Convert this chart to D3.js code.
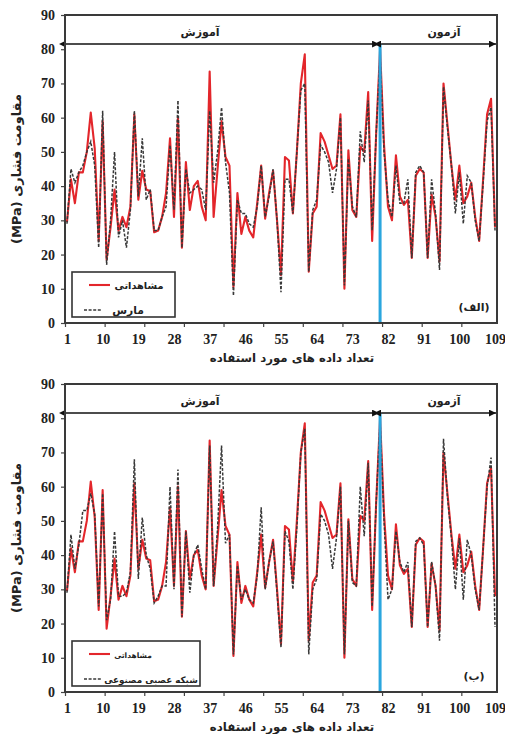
<!DOCTYPE html>
<html><head><meta charset="utf-8">
<script src="https://cdn.jsdelivr.net/npm/d3@7"></script>
<style>body{margin:0;background:#fff} svg{display:block}</style>
</head><body>
<svg id="c" width="505" height="734"></svg>
<script>
const observed = [29.5,42,35,44,44,50,61.5,51,24,59,18.5,28,39,27,31,28,34,61,36,44.5,39,38.5,26.5,27,31,38,54,31,60,22,47,33,40,41.5,34,30,73.5,31,45,59,48.5,46,10.5,38,26,31,27,25,35,46,30.5,38,44.5,30,14,48.5,47.5,32,50,70,78.5,15,32,34,55.5,53,49,45,46,61,10,50.5,33,31,51.5,50,67.5,24,55,80,52,34,30,49,37,34.5,36,19,43,45,44,19,37.5,31,18,70,58,46,36,46,35,37,41,31,24,42,61,65.5,28];
const mars = [29,45,41,44,46,50,53,46,22,62,17,30,50,25,30,22,33,62,37,54,36,39,27,27,31,34,52,33,65,22,45,38,39,40,39,33,62,41,50,63,47,38,8,36,32,32,29,28,34,46,31,37,45,30,9,42,42,32,50,68,70,15,33,36,52,50,47,38,45,60,11,48,34,31,56,47,65,27,55,78,50,36,31,46,35,35,42,19,44,46,44,19,42,32,15.5,69,57,46,32,44,29,43,41,30,24,41,59,63,27];
const ann = [29,46,36,43,53,53,58,52,25,58,21,27,47,28,28,29,35,68,33,51,40,36,26,28,31,31,60,30,65,22,47,29,40,43,36,30,72,31,48,72,43.5,46,11,37,27,30,27,26,34,54,30,38,44,29,13,47,44,30,48,70,77,11,30,33,52,50,46,36,45,60,11,50,32,31,60,45.5,67,25,55,79,50,27,30,47,38,35,38,19,44,45,43,19,38,31,15,74,57,45,30,45,27,44.5,40,30,24,42,60,68.5,19];
const xTickLabels = [1,10,19,28,37,46,55,64,73,82,91,100,109];
const xTickMarks = [0.5,10.5,20.5,30.5,40.5,50.5,60.5,70.5,80.5,90.5,100.5];
const yTicks = [0,10,20,30,40,50,60,70,80,90];
const trainEnd = 80;
const arrowLevel = 81.5;
const labelObserved = "مشاهداتی";
const labelTrain = "آموزش";
const labelTest = "آزمون";
const xTitle = "تعداد داده های مورد استفاده";
const yTitle = "مقاومت فشاری (MPa)";

const svg = d3.select("#c");
const defs = svg.append("defs");
["s","e"].forEach(k=>{
  defs.append("marker").attr("id","ar"+k).attr("viewBox","0 0 10 10")
    .attr("refX", k==="e"?10:0).attr("refY",5).attr("markerWidth",7).attr("markerHeight",7)
    .attr("markerUnits","userSpaceOnUse").attr("orient","auto-start-reverse")
    .append("path").attr("d","M0,0 L10,5 L0,10 z").attr("fill","#111");
});

const serif = "'Liberation Serif','Times New Roman',serif";
const arab = "'DejaVu Sans',sans-serif";

function fitText(sel, maxW) {
  const n = sel.node();
  let fs = +sel.attr("font-size");
  while (n.getComputedTextLength() > maxW && fs > 6) { fs -= 0.25; sel.attr("font-size", fs); }
  return sel;
}

function panel(top, bottom, model, modelLabel, panelLabel, legendW, textL, textR) {
  const x = d3.scaleLinear().domain([0.5,109.5]).range([65,497]);
  const y = d3.scaleLinear().domain([0,90]).range([bottom, top]);
  const g = svg.append("g");

  const ya = g.append("g").attr("transform","translate(65,0)")
    .call(d3.axisLeft(y).tickValues(yTicks).tickSize(4).tickSizeOuter(0).tickPadding(6));
  ya.select(".domain").remove();
  ya.selectAll("line").attr("stroke","#444").attr("stroke-width",1.2);
  ya.selectAll("text").attr("font-family",serif).attr("font-weight","bold").attr("font-size",14).attr("fill","#222");

  const xm = g.append("g").attr("transform",`translate(0,${bottom})`)
    .call(d3.axisBottom(x).tickValues(xTickMarks).tickSize(4).tickSizeOuter(0).tickFormat(""));
  xm.select(".domain").remove();
  xm.selectAll("line").attr("stroke","#444").attr("stroke-width",1.2);
  const xl = g.append("g").attr("transform",`translate(0,${bottom})`)
    .call(d3.axisBottom(x).tickValues(xTickLabels).tickSize(0).tickPadding(11));
  xl.select(".domain").remove();
  xl.selectAll("text").attr("font-family",serif).attr("font-weight","bold").attr("font-size",14).attr("fill","#222");

  fitText(g.append("text").attr("x",292).attr("y",bottom+39).attr("text-anchor","middle")
    .attr("font-family",arab).attr("font-weight","bold").attr("font-size",12.5).attr("fill","#222").text(xTitle), 165);
  g.append("text").attr("transform",`translate(21,${(top+bottom)/2}) rotate(-90)`).attr("text-anchor","middle")
    .attr("direction","rtl").attr("font-family",arab).attr("font-weight","bold").attr("font-size",13).attr("fill","#222").text(yTitle);

  const line = d3.line().x((d,i)=>x(i+1)).y(d=>y(d));
  g.append("path").datum(observed).attr("d",line).attr("fill","none")
    .attr("stroke","#e3262b").attr("stroke-width",2.1).attr("stroke-linejoin","round");
  g.append("path").datum(model).attr("d",line).attr("fill","none")
    .attr("stroke","#383838").attr("stroke-width",1.5).attr("stroke-dasharray","3,1.6");

  g.append("line").attr("x1",x(trainEnd)).attr("x2",x(trainEnd)).attr("y1",y(0)).attr("y2",y(arrowLevel))
    .attr("stroke","#2aa6de").attr("stroke-width",3);

  g.append("line").attr("x1",x(0.5)+1).attr("x2",x(trainEnd)-1).attr("y1",y(arrowLevel)).attr("y2",y(arrowLevel))
    .attr("stroke","#111").attr("stroke-width",1.5).attr("marker-start","url(#ars)").attr("marker-end","url(#are)");
  g.append("line").attr("x1",x(trainEnd)+1).attr("x2",x(109.5)-1).attr("y1",y(arrowLevel)).attr("y2",y(arrowLevel))
    .attr("stroke","#111").attr("stroke-width",1.5).attr("marker-start","url(#ars)").attr("marker-end","url(#are)");
  g.append("text").attr("x",200).attr("y",y(arrowLevel)-8).attr("text-anchor","middle")
    .attr("font-family",arab).attr("font-weight","bold").attr("font-size",11).attr("fill","#222").text(labelTrain);
  g.append("text").attr("x",444).attr("y",y(arrowLevel)-8).attr("text-anchor","middle")
    .attr("font-family",arab).attr("font-weight","bold").attr("font-size",11).attr("fill","#222").text(labelTest);

  g.append("rect").attr("x",65).attr("y",top).attr("width",432).attr("height",bottom-top)
    .attr("fill","none").attr("stroke","#3a3a3a").attr("stroke-width",2);

  const lg = g.append("g");
  lg.append("rect").attr("x",72).attr("y",bottom-51).attr("width",legendW).attr("height",45)
    .attr("fill","#fff").attr("stroke","#333").attr("stroke-width",1.6);
  lg.append("line").attr("x1",89).attr("x2",110).attr("y1",bottom-38).attr("y2",bottom-38)
    .attr("stroke","#e3262b").attr("stroke-width",2.1);
  fitText(lg.append("text").attr("x",(114+textR[0])/2).attr("y",bottom-34).attr("text-anchor","middle")
    .attr("font-family",arab).attr("font-weight","bold").attr("font-size",11).attr("fill","#222").text(labelObserved), textR[0]-114);
  lg.append("line").attr("x1",84).attr("x2",101).attr("y1",bottom-13).attr("y2",bottom-13)
    .attr("stroke","#383838").attr("stroke-width",1.5).attr("stroke-dasharray","3,1.6");
  fitText(lg.append("text").attr("x",(textL+textR[1])/2).attr("y",bottom-9).attr("text-anchor","middle")
    .attr("font-family",arab).attr("font-weight","bold").attr("font-size",11).attr("fill","#222").text(modelLabel), textR[1]-textL);

  g.append("text").attr("x",474).attr("y",bottom-12).attr("text-anchor","middle").attr("direction","rtl")
    .attr("font-family",arab).attr("font-weight","bold").attr("font-size",11).attr("fill","#222").text(panelLabel);
}

panel(15, 323, mars, "مارس", "(الف)", 103, 112, [164, 144]);
panel(384, 692, ann, "شبکه عصبی مصنوعی", "(ب)", 128, 104, [152, 198]);
</script>
</body></html>
